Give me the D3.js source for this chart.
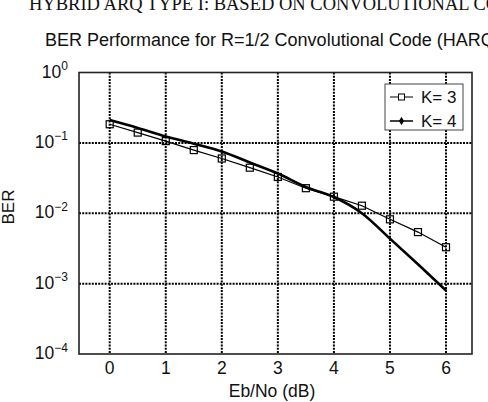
<!DOCTYPE html>
<html>
<head>
  <title>BER Performance HARQ</title>
  <script src="https://d3js.org/d3.v7.min.js"></script>
  <style>
    body { margin: 0; background: white; overflow: hidden; }
    svg { display: block; }
    text { font-family: "Liberation Sans", Arial, sans-serif; fill: #111; }
    .title { font-family: "Liberation Serif", "Times New Roman", serif; font-size: 18.5px; }
    .grid { stroke: #000; stroke-width: 2; stroke-dasharray: 2,1.2; }
    .frame { fill: none; stroke: #222; stroke-width: 1.6; }
  </style>
</head>
<body>

<script>
var width = 488, height = 402;

// data
var ebno = [0, 0.5, 1, 1.5, 2, 2.5, 3, 3.5, 4, 4.5, 5, 5.5, 6];
var berK3 = [0.184, 0.140, 0.106, 0.079, 0.060, 0.0444, 0.0328, 0.0227, 0.0172, 0.0128, 0.0082, 0.0054, 0.00329];
var berK4 = [0.211, 0.163, 0.123, 0.0974, 0.0755, 0.0527, 0.0367, 0.0236, 0.0170, 0.0100, 0.00436, 0.00188, 0.00080];
var xTicks = [0, 1, 2, 3, 4, 5, 6];
var yTicks = [0, -1, -2, -3, -4];
var legendLabels = ["K= 3", "K= 4"];

var svg = d3.select("body")
  .append("svg")
  .attr("width", width).attr("height", height);

var x = d3.scaleLinear().domain([0, 6]).range([109.7, 446]);
var y = d3.scaleLog().domain([1e-4, 1]).range([354, 72.5]);
var left = 79, right = 472;

svg.append("text")
  .attr("class", "title")
  .attr("x", 29).attr("y", 10)
  .text("HYBRID ARQ TYPE I: BASED ON CONVOLUTIONAL CODES");

svg.append("text")
  .attr("x", 45).attr("y", 46)
  .style("font-size", "18px")
  .text("BER Performance for R=1/2 Convolutional Code (HARQ Type I)");

// grid
svg.selectAll(".vgrid")
  .data(xTicks)
  .enter().append("line")
  .attr("class", "grid")
  .attr("x1", d => x(d)).attr("x2", d => x(d))
  .attr("y1", y(1)).attr("y2", y(1e-4));

svg.selectAll(".hgrid")
  .data(yTicks.slice(1, 4))
  .enter().append("line")
  .attr("class", "grid")
  .attr("x1", left).attr("x2", right)
  .attr("y1", d => y(Math.pow(10, d))).attr("y2", d => y(Math.pow(10, d)));

// K=4 curve
var line4 = d3.line()
  .x((d, i) => x(ebno[i]))
  .y(d => y(d))
  .curve(d3.curveMonotoneX);

svg.append("path")
  .attr("d", line4(berK4))
  .attr("fill", "none")
  .attr("stroke", "#000")
  .attr("stroke-width", 2.6);

// K=3 curve with squares
var line3 = d3.line()
  .x((d, i) => x(ebno[i]))
  .y(d => y(d));

svg.append("path")
  .attr("d", line3(berK3))
  .attr("fill", "none")
  .attr("stroke", "#000")
  .attr("stroke-width", 1.2);

svg.selectAll(".sq")
  .data(berK3)
  .enter().append("rect")
  .attr("x", (d, i) => x(ebno[i]) - 3.5)
  .attr("y", d => y(d) - 3.5)
  .attr("width", 7).attr("height", 7)
  .attr("fill", "none")
  .attr("stroke", "#000")
  .attr("stroke-width", 1.2);

// frame
svg.append("rect")
  .attr("class", "frame")
  .attr("x", left).attr("y", y(1))
  .attr("width", right - left).attr("height", y(1e-4) - y(1));

// axis labels
svg.selectAll(".xlab")
  .data(xTicks)
  .enter().append("text")
  .attr("x", d => x(d)).attr("y", 374)
  .attr("text-anchor", "middle")
  .style("font-size", "17.5px")
  .text(d => d);

var ylab = svg.selectAll(".ylab")
  .data(yTicks)
  .enter().append("text")
  .attr("x", 68).attr("y", d => y(Math.pow(10, d)) + 5)
  .attr("text-anchor", "end")
  .style("font-size", "17.5px");
ylab.append("tspan").text("10");
ylab.append("tspan")
  .attr("dy", -7.5)
  .style("font-size", "12px")
  .text(d => d == 0 ? "0" : "\u2212" + (-d));

svg.append("text")
  .attr("x", 272).attr("y", 397)
  .attr("text-anchor", "middle")
  .style("font-size", "17.5px")
  .text("Eb/No (dB)");

svg.append("text")
  .attr("transform", "translate(14,207) rotate(-90)")
  .attr("text-anchor", "middle")
  .style("font-size", "17px")
  .text("BER");

// legend
var lg = svg.append("g");
lg.append("rect")
  .attr("x", 385).attr("y", 84)
  .attr("width", 78).attr("height", 46)
  .attr("fill", "white")
  .attr("stroke", "#444")
  .attr("stroke-width", 1);

var rows = [97, 121];
legendLabels.forEach(function(lab, i) {
  lg.append("line")
    .attr("x1", 390).attr("x2", 413)
    .attr("y1", rows[i]).attr("y2", rows[i])
    .attr("stroke", "#000")
    .attr("stroke-width", i == 0 ? 1 : 1.5);
  if (i == 0) {
    lg.append("rect")
      .attr("x", 398.5).attr("y", rows[i] - 3)
      .attr("width", 6).attr("height", 6)
      .attr("fill", "white").attr("stroke", "#000").attr("stroke-width", 1);
  } else {
    lg.append("path")
      .attr("d", d3.symbol().type(d3.symbolDiamond).size(22)())
      .attr("transform", "translate(401.5," + rows[i] + ")")
      .attr("fill", "#000");
  }
  lg.append("text")
    .attr("x", 421).attr("y", rows[i] + 6)
    .style("font-size", "17px")
    .text(lab);
});
</script>

</body>
</html>
